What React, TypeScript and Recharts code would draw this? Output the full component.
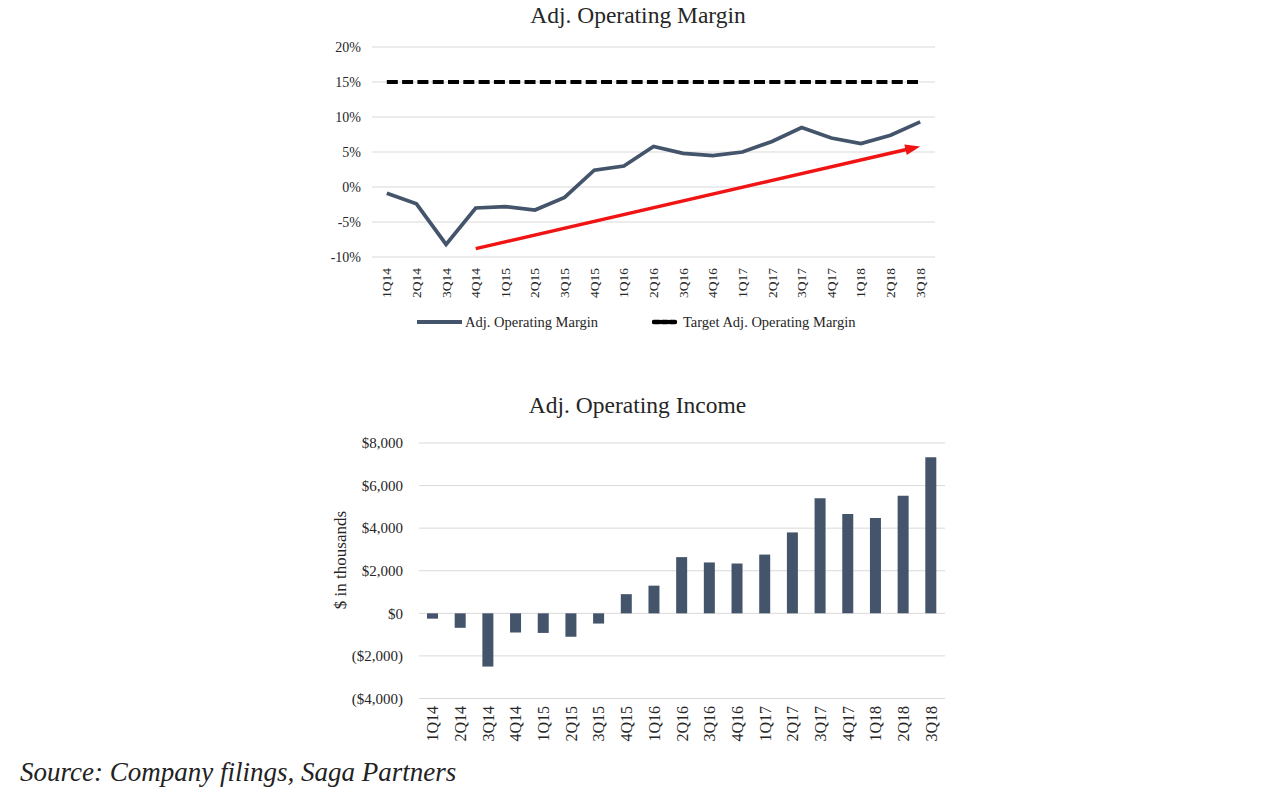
import {
  Bar,
  CartesianGrid,
  ComposedChart,
  Legend,
  Line,
  ReferenceLine,
  XAxis,
  YAxis,
} from 'recharts';

const QUARTERS = [
  '1Q14', '2Q14', '3Q14', '4Q14', '1Q15', '2Q15', '3Q15', '4Q15', '1Q16', '2Q16',
  '3Q16', '4Q16', '1Q17', '2Q17', '3Q17', '4Q17', '1Q18', '2Q18', '3Q18',
];

// Adj. operating margin, %
const MARGIN_PCT = [
  -0.9, -2.4, -8.2, -3.0, -2.8, -3.3, -1.5, 2.4, 3.0, 5.8,
  4.8, 4.5, 5.0, 6.5, 8.5, 7.0, 6.2, 7.4, 9.3,
];

const TARGET_PCT = [
  15, 15, 15, 15, 15, 15, 15, 15, 15, 15,
  15, 15, 15, 15, 15, 15, 15, 15, 15,
];

// trend arrow drawn over the margin chart
const ARROW_FROM = { x: '4Q14', y: -8.8 };
const ARROW_TO = { x: '3Q18', y: 5.8 };

const MARGIN_TICKS = [-10, -5, 0, 5, 10, 15, 20];

// Adj. operating income, $ thousands
const INCOME = [
  -250, -680, -2500, -900, -920, -1100, -480, 900, 1300, 2640,
  2390, 2340, 2760, 3800, 5400, 4670, 4480, 5520, 7330,
];

const INCOME_TICKS = [-4000, -2000, 0, 2000, 4000, 6000, 8000];

const marginData = QUARTERS.map((q, i) => ({
  q,
  margin: MARGIN_PCT[i],
  target: TARGET_PCT[i],
}));

const incomeData = QUARTERS.map((q, i) => ({ q, income: INCOME[i] }));

const SERIF = "'Liberation Serif', 'Times New Roman', serif";
const SLATE = '#44546A';
const GRID = '#D9D9D9';
const TEXT = '#262626';
const W = 1258;

const fmtMoney = (v: number) => {
  const s = '$' + Math.abs(v).toLocaleString('en-US');
  return v < 0 ? `(${s})` : s;
};

function RotatedTick(props: any) {
  const { x, y, payload, gap, size } = props;
  const ty = y + gap;
  return (
    <text
      x={x}
      y={ty}
      transform={`rotate(-90, ${x}, ${ty})`}
      textAnchor="end"
      dominantBaseline="central"
      fontSize={size}
      fontFamily={SERIF}
      fill={TEXT}
    >
      {payload.value}
    </text>
  );
}

function TrendArrow(props: any) {
  const { x1, y1, x2, y2 } = props;
  const ang = Math.atan2(y2 - y1, x2 - x1);
  const head = 15;
  const half = 5.5;
  const bx = x2 - head * Math.cos(ang);
  const by = y2 - head * Math.sin(ang);
  const px = -Math.sin(ang) * half;
  const py = Math.cos(ang) * half;
  return (
    <g>
      <line x1={x1} y1={y1} x2={bx + 2 * Math.cos(ang)} y2={by + 2 * Math.sin(ang)} stroke="#F01414" strokeWidth={3.5} />
      <polygon
        points={`${x2},${y2} ${bx + px},${by + py} ${bx - px},${by - py}`}
        fill="#F01414"
      />
    </g>
  );
}

function MarginLegend() {
  const base = 8;
  return (
    <div style={{ position: 'relative', height: 20, fontFamily: SERIF, fontSize: 14.5, color: TEXT }}>
      <svg style={{ position: 'absolute', left: 417 - base, top: 6 }} width={46} height={8}>
        <line x1={0} y1={4} x2={45} y2={4} stroke={SLATE} strokeWidth={4} />
      </svg>
      <span style={{ position: 'absolute', left: 465 - base, top: 1, lineHeight: '18px' }}>
        Adj. Operating Margin
      </span>
      <svg style={{ position: 'absolute', left: 652 - base, top: 6 }} width={26} height={8}>
        <line x1={2} y1={4} x2={23} y2={4} stroke="#000" strokeWidth={4.5} strokeDasharray="5.5 2.5" strokeLinecap="round" />
      </svg>
      <span style={{ position: 'absolute', left: 683 - base, top: 1, lineHeight: '18px' }}>
        Target Adj. Operating Margin
      </span>
    </div>
  );
}

export default function App() {
  return (
    <div style={{ position: 'relative', width: W, height: 785, fontFamily: SERIF }}>
      <div
        style={{
          position: 'absolute', left: 0, top: -4, width: W, textAlign: 'center',
          fontSize: 23.5, lineHeight: '22px', color: TEXT, paddingLeft: 2, boxSizing: 'border-box',
        }}
      >
        Adj. Operating Margin
      </div>

      <div style={{ position: 'absolute', left: 0, top: 0 }}>
        <ComposedChart
          width={W}
          height={330}
          data={marginData}
          margin={{ top: 39, right: 331, bottom: 6, left: 304 }}
        >
          <CartesianGrid vertical={false} stroke={GRID} />
          <XAxis
            dataKey="q"
            scale="band"
            axisLine={false}
            tickLine={false}
            tickSize={0}
            tickMargin={0}
            height={55}
            interval={0}
            tick={(p: any) => <RotatedTick {...p} gap={11} size={13.5} />}
          />
          <YAxis
            domain={[-10, 20]}
            ticks={MARGIN_TICKS}
            tickFormatter={(v: number) => `${v}%`}
            axisLine={false}
            tickLine={false}
            tickSize={0}
            tickMargin={11}
            width={60}
            tick={{ fill: TEXT, fontSize: 14, fontFamily: SERIF }}
          />
          <Line
            type="linear"
            dataKey="target"
            name="Target Adj. Operating Margin"
            stroke="#000"
            strokeWidth={4}
            strokeDasharray="11 4.3"
            dot={false}
            activeDot={false}
            isAnimationActive={false}
          />
          <Line
            type="linear"
            dataKey="margin"
            name="Adj. Operating Margin"
            stroke={SLATE}
            strokeWidth={3.75}
            dot={false}
            activeDot={false}
            isAnimationActive={false}
          />
          <ReferenceLine
            segment={[ARROW_FROM, ARROW_TO]}
            shape={(p: any) => <TrendArrow {...p} />}
          />
          <Legend
            verticalAlign="bottom"
            wrapperStyle={{ left: 0, width: W }}
            content={() => <MarginLegend />}
          />
        </ComposedChart>
      </div>

      <div
        style={{
          position: 'absolute', left: 0, top: 386, width: W, textAlign: 'center',
          fontSize: 23.5, lineHeight: '22px', color: TEXT, paddingLeft: 1, boxSizing: 'border-box',
        }}
      >
        Adj. Operating Income
      </div>

      <div
        style={{
          position: 'absolute', left: 333 - 100, top: 552 - 11, width: 200, height: 22,
          lineHeight: '22px', textAlign: 'center', fontSize: 17, color: TEXT,
          transform: 'rotate(-90deg)',
        }}
      >
        $ in thousands
      </div>

      <div style={{ position: 'absolute', left: 0, top: 380 }}>
        <ComposedChart
          width={W}
          height={380}
          data={incomeData}
          margin={{ top: 55, right: 321, bottom: 9.5, left: 331 }}
        >
          <CartesianGrid vertical={false} stroke={GRID} />
          <XAxis
            dataKey="q"
            axisLine={false}
            tickLine={false}
            tickSize={0}
            tickMargin={0}
            height={60}
            interval={0}
            tick={(p: any) => <RotatedTick {...p} gap={7.5} size={16} />}
          />
          <YAxis
            domain={[-4000, 8000]}
            ticks={INCOME_TICKS}
            tickFormatter={fmtMoney}
            axisLine={false}
            tickLine={false}
            tickSize={0}
            tickMargin={16}
            width={80}
            tick={{ fill: TEXT, fontSize: 15, fontFamily: SERIF }}
          />
          <Bar dataKey="income" fill={SLATE} barSize={11} isAnimationActive={false} />
        </ComposedChart>
      </div>

      <div
        style={{
          position: 'absolute', left: 12, top: 749, fontSize: 27, lineHeight: '30px',
          fontStyle: 'italic', color: '#222', whiteSpace: 'nowrap',
        }}
      >
        Source: Company filings, Saga Partners
      </div>
    </div>
  );
}
